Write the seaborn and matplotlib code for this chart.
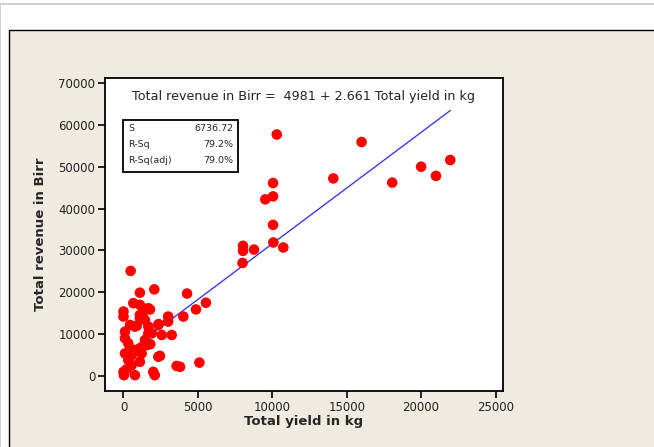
import numpy as np
import pandas as pd
import matplotlib
matplotlib.use("Agg")
import matplotlib.pyplot as plt
import seaborn as sns
from matplotlib.patches import Rectangle

# Data
yield_kg = [
    # larger farms
    10300, 16000, 14100, 10050, 10050, 9530, 10050, 10070, 10740, 8030,
    8030, 8770, 8000, 20000, 21000, 21960, 18060,
    # small farms (dense cluster)
    480, 1100, 2070, 4270, 5540, 4870, 4020, 3570, 3800, 5100,
    660, 1100, 1670, 0, 0, 1100, 1100, 1440, 3000, 3000,
    2340, 440, 770, 1670, 100, 1670, 1900, 2570, 3240, 100,
    320, 1440, 1560, 440, 770, 1100, 100, 550, 1220, 320,
    1100, 550, 2340, 0, 770, 2000, 2100, 1290, 30, 1780,
    2360, 890, 200, 1800, 2450,
]
revenue_birr = [
    57700, 55900, 47200, 46100, 42900, 42200, 36100, 31900, 30700, 31100,
    29900, 30200, 27000, 50000, 47800, 51600, 46200,
    25100, 19900, 20700, 19700, 17500, 15900, 14200, 2400, 2200, 3200,
    17400, 17000, 16200, 15400, 14200, 14600, 13800, 13400, 14200, 13000,
    12200, 12200, 11800, 11800, 10600, 10200, 10200, 9800, 9800, 9000,
    7800, 8600, 7400, 6600, 6200, 6600, 5400, 5000, 5400, 3800,
    3400, 2600, 4600, 1000, 200, 1000, 200, 15000, 200, 15900,
    12400, 12000, 1600, 7600, 4800,
]
intercept = 4981
slope = 2.661
x_ticks = [0, 5000, 10000, 15000, 20000, 25000]
y_ticks = [0, 10000, 20000, 30000, 40000, 50000, 60000, 70000]

df = pd.DataFrame({"yield": yield_kg, "revenue": revenue_birr})
fit = pd.DataFrame({"yield": [min(yield_kg), max(yield_kg)]})
fit["revenue"] = intercept + slope * fit["yield"]

sns.set_style("white")
fig = plt.figure(figsize=(6.54, 4.47), dpi=100)
fig.patch.set_facecolor("white")

# page frame and beige panel (behind the axes)
frame = Rectangle((0.0, -0.05), 1.2, 1.04, transform=fig.transFigure,
                  facecolor="white", edgecolor="#c8c8c8", lw=1.2, zorder=-3)
panel = Rectangle((9 / 654, -0.05), 1.2, 1 - 29.5 / 447 + 0.05,
                  transform=fig.transFigure, facecolor="#efebe1",
                  edgecolor="black", lw=1.0, zorder=-2)
fig.add_artist(frame)
fig.add_artist(panel)

ax = fig.add_axes([105 / 654, 1 - 391 / 447, 398 / 654, 313 / 447])
ax.set_zorder(1)
ax.set_facecolor("white")

sns.lineplot(data=fit, x="yield", y="revenue", color="#3a3af0", lw=1.0, ax=ax, zorder=2)
sns.scatterplot(data=df, x="yield", y="revenue", color="red", s=58,
                edgecolor="none", ax=ax, zorder=3)

ax.set_xlim(-1243, 25504)
ax.set_ylim(-3583, 71190)
ax.set_xticks(x_ticks)
ax.set_yticks(y_ticks)
ax.tick_params(axis="both", direction="out", length=5, width=1.2, colors="black",
               labelsize=8.5, labelcolor="#222222", left=True, bottom=True, pad=2)
for sp in ax.spines.values():
    sp.set_color("black")
    sp.set_linewidth(1.3)

ax.set_xlabel("Total yield in kg", fontsize=9.5, fontweight="bold", labelpad=1)
ax.set_ylabel("Total revenue in Birr", fontsize=9.5, fontweight="bold", labelpad=8)

ax.text(0.5, 0.94, "Total revenue in Birr =  4981 + 2.661 Total yield in kg",
        transform=ax.transAxes, ha="center", va="center", fontsize=9.2, color="#222222")

# statistics box
ax.add_patch(Rectangle((0.044, 0.70), 0.29, 0.165, transform=ax.transAxes,
                       facecolor="white", edgecolor="black", lw=1.3, zorder=4))
stats = [("S", "6736.72"), ("R-Sq", "79.2%"), ("R-Sq(adj)", "79.0%")]
for i, (k, v) in enumerate(stats):
    yy = 0.838 - i * 0.05
    ax.text(0.058, yy, k, transform=ax.transAxes, fontsize=6.8, va="center", zorder=5)
    ax.text(0.322, yy, v, transform=ax.transAxes, fontsize=6.8, va="center",
            ha="right", zorder=5)

fig.savefig("out.png", dpi=100)
